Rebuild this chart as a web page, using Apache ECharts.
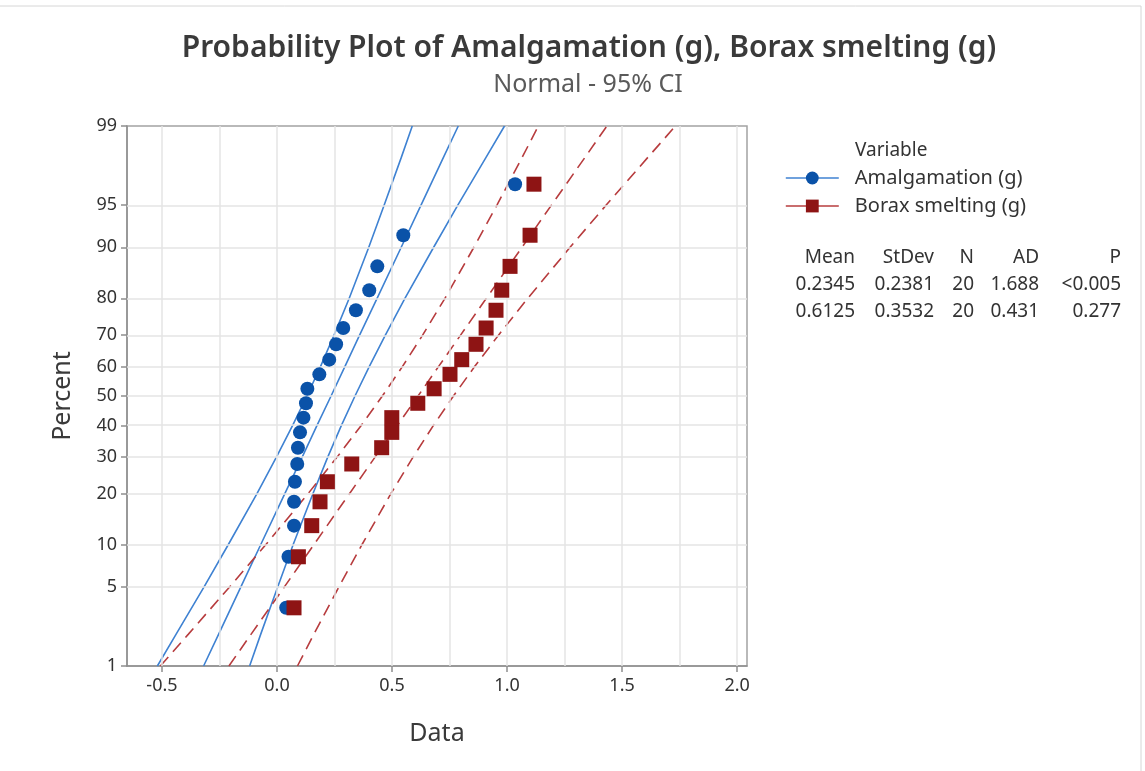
<!DOCTYPE html>
<html>
<head>
<meta charset="utf-8">
<script src="https://cdn.jsdelivr.net/npm/echarts@6/dist/echarts.min.js"></script>
<style>
html,body{margin:0;padding:0;background:#fff;}
#chart{width:1145px;height:771px;}
</style>
</head>
<body>
<div id="chart"></div>
<script>
// ---------- data ----------
const percentTicks = [1, 5, 10, 20, 30, 40, 50, 60, 70, 80, 90, 95, 99];
const xTicks = [-0.5, 0.0, 0.5, 1.0, 1.5, 2.0];
const xGrid = [-0.5, -0.25, 0, 0.25, 0.5, 0.75, 1.0, 1.25, 1.5, 1.75, 2.0];

// plotting positions (percent) of the 20 ordered observations
const plotPercent = [3.4, 8.3, 13.2, 18.1, 23.0, 27.9, 32.8, 37.7, 42.6, 47.5,
                     52.5, 57.4, 62.3, 67.2, 72.1, 77.0, 81.9, 86.8, 91.7, 96.6];
const amalgamation = [0.04, 0.05, 0.074, 0.074, 0.078, 0.088, 0.091, 0.10, 0.115, 0.126,
                      0.132, 0.184, 0.227, 0.257, 0.288, 0.343, 0.401, 0.436, 0.549, 1.035];
const borax = [0.074, 0.093, 0.151, 0.187, 0.219, 0.325, 0.455, 0.499, 0.499, 0.612,
               0.683, 0.752, 0.803, 0.865, 0.909, 0.952, 0.977, 1.013, 1.100, 1.117];

// percent levels at which the fitted lines / CI bands were read
const bandPercent = [1, 2, 5, 10, 20, 30, 40, 50, 60, 70, 80, 90, 95, 98, 99];
const amalFit   = [-0.319, -0.254, -0.157, -0.071, 0.034, 0.110, 0.174, 0.235, 0.295, 0.359, 0.435, 0.540, 0.626, 0.723, 0.788];
const amalLower = [-0.520, -0.439, -0.317, -0.212, -0.087, -0.002, 0.068, 0.130, 0.189, 0.248, 0.314, 0.399, 0.466, 0.540, 0.588];
const amalUpper = [-0.119, -0.071, 0.003, 0.070, 0.156, 0.221, 0.280, 0.339, 0.401, 0.471, 0.556, 0.681, 0.786, 0.908, 0.989];
const boraxFit   = [-0.209, -0.113, 0.032, 0.160, 0.315, 0.427, 0.523, 0.613, 0.702, 0.798, 0.910, 1.065, 1.193, 1.338, 1.434];
const boraxLower = [-0.507, -0.386, -0.206, -0.049, 0.135, 0.262, 0.366, 0.458, 0.545, 0.633, 0.730, 0.856, 0.956, 1.065, 1.136];
const boraxUpper = [0.089, 0.160, 0.269, 0.369, 0.495, 0.592, 0.680, 0.767, 0.859, 0.963, 1.090, 1.274, 1.431, 1.611, 1.732];

const statsHeader = ['Mean', 'StDev', 'N', 'AD', 'P'];
const statsAmal   = ['0.2345', '0.2381', '20', '1.688', '<0.005'];
const statsBorax  = ['0.6125', '0.3532', '20', '0.431', '0.277'];

const seriesNames = ['Amalgamation (g)', 'Borax smelting (g)'];

// ---------- normal probability scale (inverse normal CDF, Acklam) ----------
function normInv(p) {
  const a = [-3.969683028665376e+01, 2.209460984245205e+02, -2.759285104469687e+02,
             1.383577518672690e+02, -3.066479806614716e+01, 2.506628277459239e+00];
  const b = [-5.447609879822406e+01, 1.615858368580409e+02, -1.556989798598866e+02,
             6.680131188771972e+01, -1.328068155288572e+01];
  const c = [-7.784894002430293e-03, -3.223964580411365e-01, -2.400758277161838e+00,
             -2.549732539343734e+00, 4.374664141464968e+00, 2.938163982698783e+00];
  const d = [7.784695709041462e-03, 3.224671290700398e-01, 2.445134137142996e+00,
             3.754408661907416e+00];
  const pl = 0.02425, ph = 1 - pl;
  let q, r;
  if (p < pl) {
    q = Math.sqrt(-2 * Math.log(p));
    return (((((c[0]*q+c[1])*q+c[2])*q+c[3])*q+c[4])*q+c[5]) / ((((d[0]*q+d[1])*q+d[2])*q+d[3])*q+1);
  } else if (p <= ph) {
    q = p - 0.5; r = q * q;
    return (((((a[0]*r+a[1])*r+a[2])*r+a[3])*r+a[4])*r+a[5])*q / (((((b[0]*r+b[1])*r+b[2])*r+b[3])*r+b[4])*r+1);
  } else {
    q = Math.sqrt(-2 * Math.log(1 - p));
    return -(((((c[0]*q+c[1])*q+c[2])*q+c[3])*q+c[4])*q+c[5]) / ((((d[0]*q+d[1])*q+d[2])*q+d[3])*q+1);
  }
}
const toZ = pct => normInv(pct / 100);
const zTicks = percentTicks.map(toZ);

const pairs = (xs, pcts) => xs.map((x, i) => [x, toZ(pcts[i])]);

const FONT = 'Noto Sans';
const BLUE_PT = '#0a52a8';
const BLUE_LN = '#3f82d2';
const RED_PT = '#8e1414';
const RED_LN = '#b73c3e';
const GRID_C = '#e4e4e4';

function bandSeries(name, data, color, dashed) {
  return {
    type: 'line', name: name, data: data, showSymbol: false, symbol: 'none',
    silent: true, z: 3, smooth: false,
    lineStyle: { color: color, width: 1.6, type: dashed ? [12, 7] : 'solid' },
    emphasis: { disabled: true }
  };
}

const gridMarks = [];
xGrid.forEach(v => gridMarks.push({ xAxis: v }));
zTicks.forEach(v => gridMarks.push({ yAxis: v }));

const chart = echarts.init(document.getElementById('chart'), null, { renderer: 'canvas' });

const statsCols = [855, 934, 974, 1039, 1121];
const statsRows = [258, 285, 312];
const graphics = [];
graphics.push({
  type: 'rect', shape: { x: -2, y: 6, width: 1143, height: 790 },
  style: { fill: 'none', stroke: '#d6d6d6', lineWidth: 1 }, silent: true, z: -10
});
[statsHeader, statsAmal, statsBorax].forEach((row, r) => {
  row.forEach((t, c) => {
    graphics.push({
      type: 'text', x: statsCols[c], y: statsRows[r],
      style: { text: t, fill: '#333', font: '19px "' + FONT + '"', textAlign: 'right', textVerticalAlign: 'middle' },
      silent: true
    });
  });
});
graphics.push({
  type: 'text', x: 855, y: 151,
  style: { text: 'Variable', fill: '#333', font: '19px "' + FONT + '"', textAlign: 'left', textVerticalAlign: 'middle' },
  silent: true
});

const option = {
  backgroundColor: '#fff',
  animation: false,
  textStyle: { fontFamily: FONT },
  title: [
    { text: 'Probability Plot of Amalgamation (g), Borax smelting (g)', left: 584, top: 28, textAlign: 'center',
      textStyle: { fontSize: 30, fontWeight: 600, color: '#3a3a3a', fontFamily: FONT } },
    { text: 'Normal - 95% CI', left: 583, top: 67, textAlign: 'center',
      textStyle: { fontSize: 25, fontWeight: 'normal', color: '#5a5a5a', fontFamily: FONT } }
  ],
  legend: {
    data: seriesNames,
    orient: 'vertical',
    left: 785, top: 168, padding: 0,
    itemWidth: 53, itemHeight: 16, itemGap: 8,
    textStyle: { fontSize: 20, color: '#333', fontFamily: FONT, padding: [0, 0, 0, 11] },
    lineStyle: { opacity: 1, width: 1.6 },
    selectedMode: false
  },
  graphic: graphics,
  grid: { left: 127, top: 126, right: 398, bottom: 105, show: true, borderColor: '#a3a3a3', borderWidth: 1.5, backgroundColor: '#fff' },
  xAxis: {
    type: 'value', min: -0.652, max: 2.043,
    name: 'Data', nameLocation: 'middle', nameGap: 55,
    nameTextStyle: { fontSize: 25, color: '#3a3a3a', fontFamily: FONT },
    axisLine: { show: true, onZero: false, lineStyle: { color: '#8f8f8f', width: 1.5 } },
    axisTick: { show: true, length: 6, customValues: xTicks, lineStyle: { color: '#8f8f8f', width: 1.5 } },
    axisLabel: { customValues: xTicks, margin: 11, fontSize: 18, color: '#333', fontFamily: FONT,
                 formatter: v => v.toFixed(1) },
    splitLine: { show: false }
  },
  yAxis: {
    type: 'value', min: toZ(1), max: toZ(99),
    name: 'Percent', nameLocation: 'middle', nameGap: 52,
    nameTextStyle: { fontSize: 25, color: '#3a3a3a', fontFamily: FONT },
    axisLine: { show: true, onZero: false, lineStyle: { color: '#8f8f8f', width: 1.5 } },
    axisTick: { show: true, length: 6, customValues: zTicks, lineStyle: { color: '#8f8f8f', width: 1.5 } },
    axisLabel: { customValues: zTicks, margin: 10, fontSize: 18, color: '#333', fontFamily: FONT,
                 formatter: v => {
                   const i = zTicks.findIndex(t => Math.abs(t - v) < 1e-6);
                   return i >= 0 ? String(percentTicks[i]) : '';
                 } },
    splitLine: { show: false }
  },
  series: [
    {
      type: 'line', name: '__grid', data: [], silent: true, z: 1,
      markLine: {
        silent: true, symbol: ['none', 'none'], animation: false,
        label: { show: false },
        lineStyle: { color: GRID_C, width: 1.5, type: 'solid' },
        emphasis: { disabled: true },
        data: gridMarks
      }
    },
    bandSeries('_af', pairs(amalFit, bandPercent), BLUE_LN, false),
    bandSeries('_al', pairs(amalLower, bandPercent), BLUE_LN, false),
    bandSeries('_au', pairs(amalUpper, bandPercent), BLUE_LN, false),
    bandSeries('_bf', pairs(boraxFit, bandPercent), RED_LN, true),
    bandSeries('_bl', pairs(boraxLower, bandPercent), RED_LN, true),
    bandSeries('_bu', pairs(boraxUpper, bandPercent), RED_LN, true),
    {
      type: 'line', name: seriesNames[0], data: pairs(amalgamation, plotPercent),
      symbol: 'circle', symbolSize: 14, showAllSymbol: true, z: 5,
      itemStyle: { color: BLUE_PT },
      lineStyle: { color: BLUE_LN, opacity: 0, width: 1.6 },
      emphasis: { disabled: true }
    },
    {
      type: 'line', name: seriesNames[1], data: pairs(borax, plotPercent),
      symbol: 'rect', symbolSize: 15, showAllSymbol: true, z: 6,
      itemStyle: { color: RED_PT },
      lineStyle: { color: RED_LN, opacity: 0, width: 1.6 },
      emphasis: { disabled: true }
    }
  ]
};
chart.setOption(option);
</script>
</body>
</html>
